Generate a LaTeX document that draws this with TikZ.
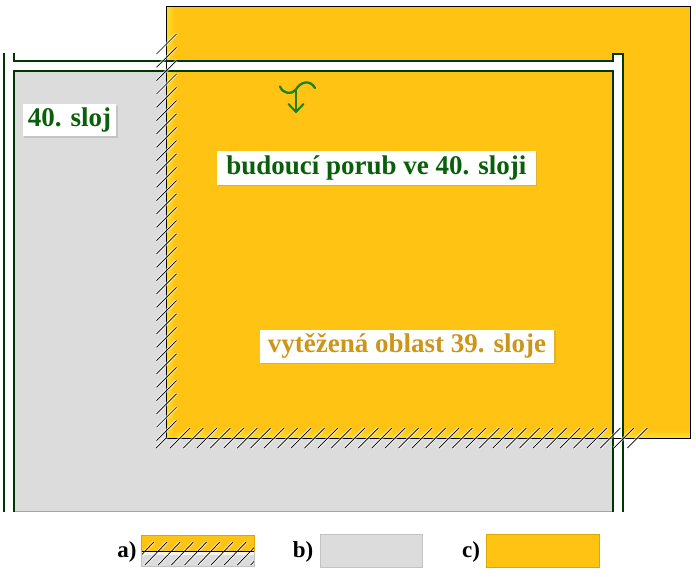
\documentclass[tikz,border=0pt]{standalone}
\usepackage{fontspec}
\setmainfont{Liberation Serif}
\usetikzlibrary{shadows}
\definecolor{orangeF}{RGB}{255,195,20}
\definecolor{glowY}{RGB}{255,222,40}
\definecolor{greyF}{RGB}{220,220,220}
\definecolor{lineG}{RGB}{0,55,0}
\definecolor{textG}{RGB}{10,95,10}
\definecolor{textO}{RGB}{205,150,25}
\definecolor{symG}{RGB}{25,130,30}
\definecolor{borderO}{RGB}{225,165,0}
\definecolor{borderG}{RGB}{195,195,195}
\begin{document}
\begin{tikzpicture}[x=1pt,y=-1pt,
  corr/.style={draw=lineG, line width=2pt},
  hatch/.style={black, line width=0.7pt},
  halo/.style={white, line width=3pt, opacity=0.55},
  lab/.style={fill=white, font=\fontsize{27}{30}\selectfont\bfseries, text height=19pt, text depth=6pt, anchor=north west, drop shadow={shadow xshift=1.5pt, shadow yshift=-1.5pt, opacity=0.25}},
  leg/.style={font=\fontsize{23}{26}\selectfont\bfseries, anchor=base}
]
\useasboundingbox (0,0) rectangle (696,576);
\fill[white] (0,0) rectangle (696,576);

% grey area (40. sloj)
\fill[greyF] (14,71) rectangle (612,512);
\draw[gray!70, line width=0.8pt] (14,511.6) -- (612,511.6);

% orange area (39. sloj)
\fill[orangeF] (166,6) rectangle (690,438);
\shade[left color=glowY, right color=orangeF] (166,6) rectangle (175,438);
\shade[bottom color=glowY, top color=orangeF] (175,429) rectangle (690,438);

% corridors
\fill[white] (166,61) rectangle (612.5,71);
\fill[white] (612.5,54) rectangle (622.5,512);

\draw[black, line width=0.9pt] (166,6) rectangle (690,438);

\draw[corr] (4,53) -- (4,512);
\draw[corr] (14,53) -- (14,61) -- (612.5,61) -- (612.5,54) -- (622.5,54) -- (622.5,512);
\draw[corr] (14,512) -- (14,71) -- (612.5,71) -- (612.5,512);

% hatching
\foreach \k in {0,...,29} {
  \pgfmathsetmacro\yc{44+13.33*\k}
  \draw[halo] (156.5,\yc+10) -- (176.5,\yc-10);
  \draw[hatch] (156.5,\yc+10) -- (176.5,\yc-10);
}
\draw[halo] (156,448) -- (166.5,437.5);
\draw[hatch] (156,448) -- (166.5,437.5);
\foreach \k in {0,...,34} {
  \pgfmathsetmacro\xc{180+13.45*\k}
  \draw[halo] (\xc-10,448) -- (\xc+10,428);
  \draw[hatch] (\xc-10,448) -- (\xc+10,428);
}

% labels
\node[lab, text=textG, inner xsep=5pt, inner ysep=3.5pt] (sloj) at (22.7,104) {40. sloj};
\node[lab, text=textG, inner xsep=9.5pt, inner ysep=4.5pt] (porub) at (216.7,150.7) {budoucí porub ve 40. sloji};
\node[lab, text=textO, inner xsep=8.3pt, inner ysep=4pt] (vyt) at (259.3,329.3) {vytěžená oblast 39. sloje};

% symbol
\draw[symG, line width=2.3pt, line cap=round] (280,86.5) .. controls (283,94) and (292,95) .. (296,89.5) .. controls (300,82) and (310,79) .. (315,88);
\draw[symG, line width=2pt] (296,89.5) -- (296,111);
\draw[symG, line width=2pt, line cap=round] (288.5,104) -- (296,112) -- (303.5,104);

% legend
\fill[orangeF] (141.7,535) rectangle (254,551.7);
\fill[greyF] (141.7,551.7) rectangle (254,566.7);
\fill[white, opacity=0.7] (141.7,552) rectangle (254,555);
\begin{scope}
  \clip (141.7,535) rectangle (254,566.7);
  \foreach \k in {-1,...,8} {
    \pgfmathsetmacro\xc{156+13.2*\k}
    \draw[halo] (\xc-11,565) -- (\xc+11,542);
    \draw[hatch] (\xc-11,565) -- (\xc+11,542);
  }
\end{scope}
\draw[borderO, line width=0.6pt] (141.7,551.7) -- (141.7,535) -- (254,535) -- (254,551.7);
\draw[borderG, line width=0.6pt] (141.7,551.7) -- (141.7,566.7) -- (254,566.7) -- (254,551.7);
\draw[black, line width=0.9pt] (141.7,551.7) -- (254,551.7);
\draw[draw=borderG, fill=greyF, line width=0.8pt] (320,534.5) rectangle (422.7,567);
\draw[draw=borderO, fill=orangeF, line width=0.8pt] (486.7,534.5) rectangle (599,567);
\node[leg] (la) at (127,557.5) {a)};
\node[leg] (lb) at (303,557.5) {b)};
\node[leg] (lc) at (471,557.5) {c)};
\end{tikzpicture}
\end{document}
